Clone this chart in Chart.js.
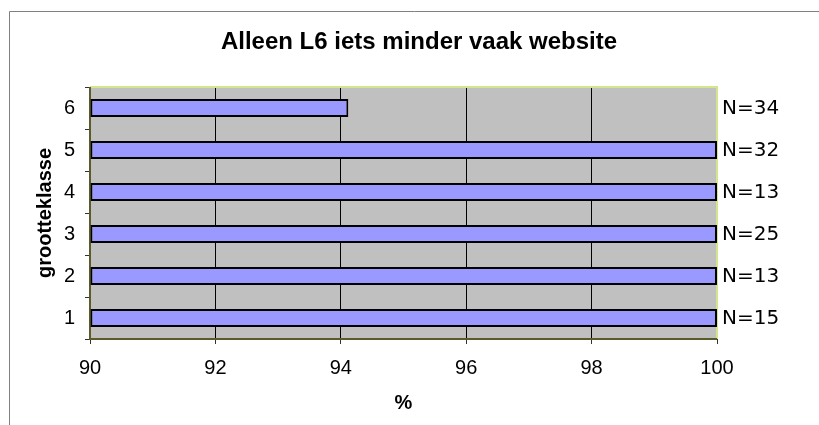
<!DOCTYPE html>
<html>
<head>
<meta charset="utf-8">
<script src="https://cdn.jsdelivr.net/npm/chart.js@4/dist/chart.umd.min.js"></script>
<style>
  body { margin: 0; background: #fff; }
  canvas { display: block; }
</style>
</head>
<body>
<canvas id="chart" width="819" height="425"></canvas>
<script>
// grootteklasse 1..6, percentage and number of respondents
const classes = ["1", "2", "3", "4", "5", "6"];
const percent = [100, 100, 100, 100, 100, 94.12];
const counts = [15, 13, 25, 13, 32, 34];
const xTicks = [90, 92, 94, 96, 98, 100];

const titleText = "Alleen L6 iets minder vaak website";
const yTitle = "grootteklasse";
const xTitle = "%";

// gray plot background + outer frame
const backdrop = {
  id: "backdrop",
  beforeDraw(chart) {
    const { ctx, chartArea: a } = chart;
    ctx.save();
    ctx.fillStyle = "#c0c0c0";
    ctx.fillRect(a.left, a.top, a.right - a.left, a.bottom - a.top);
    ctx.strokeStyle = "#808080";
    ctx.lineWidth = 1;
    ctx.beginPath();
    ctx.moveTo(9.5, 425);
    ctx.lineTo(9.5, 11.5);
    ctx.lineTo(819, 11.5);
    ctx.stroke();
    ctx.restore();
  },
  beforeDatasetsDraw(chart) {
    const { ctx, chartArea: a } = chart;
    ctx.save();
    ctx.lineWidth = 2;
    ctx.strokeStyle = "#d4e68c";
    ctx.beginPath();
    ctx.moveTo(a.left, a.top);
    ctx.lineTo(a.right, a.top);
    ctx.lineTo(a.right, a.bottom);
    ctx.stroke();
    ctx.strokeStyle = "#5a5a2a";
    ctx.beginPath();
    ctx.moveTo(a.left, a.top);
    ctx.lineTo(a.left, a.bottom);
    ctx.lineTo(a.right, a.bottom);
    ctx.stroke();
    ctx.restore();
  }
};

// title, axis titles and N= labels
const labels = {
  id: "labels",
  afterDraw(chart) {
    const { ctx, chartArea: a, scales } = chart;
    ctx.save();
    ctx.fillStyle = "#000";
    ctx.textAlign = "center";
    ctx.textBaseline = "alphabetic";
    ctx.font = "bold 24px 'Liberation Sans', Arial, sans-serif";
    ctx.fillText(titleText, 419, 49);

    ctx.font = "bold 20px 'Liberation Sans', Arial, sans-serif";
    ctx.fillText(xTitle, (a.left + a.right) / 2, 409);

    ctx.save();
    ctx.translate(51, 213);
    ctx.rotate(-Math.PI / 2);
    ctx.fillText(yTitle, 0, 0);
    ctx.restore();

    ctx.font = "20px 'DejaVu Sans', Verdana, sans-serif";
    ctx.textAlign = "left";
    ctx.textBaseline = "middle";
    counts.forEach((n, i) => {
      const y = scales.y.getPixelForValue(i);
      ctx.fillText("N=" + n, a.right + 5, y + 1);
    });
    ctx.restore();
  }
};

new Chart(document.getElementById("chart"), {
  type: "bar",
  plugins: [backdrop, labels],
  data: {
    labels: classes,
    datasets: [{
      data: percent,
      base: 90,
      backgroundColor: "#9999ff",
      borderColor: "#000",
      borderWidth: 2,
      borderSkipped: false,
      barPercentage: 0.43,
      categoryPercentage: 1
    }]
  },
  options: {
    indexAxis: "y",
    responsive: false,
    animation: false,
    layout: { padding: { top: 87, right: 102, left: 0, bottom: 0 } },
    plugins: {
      legend: { display: false },
      tooltip: { enabled: false },
      title: { display: false }
    },
    scales: {
      x: {
        min: xTicks[0],
        max: xTicks[xTicks.length - 1],
        afterBuildTicks: s => { s.ticks = xTicks.map(v => ({ value: v })); },
        afterFit: s => { s.height = 86; },
        border: { display: false },
        grid: {
          color: c => (c.tick && (c.tick.value === 90 || c.tick.value === 100)) ? "rgba(0,0,0,0)" : "#000",
          tickColor: "#333",
          tickLength: 5,
          lineWidth: 1
        },
        ticks: {
          color: "#000",
          padding: 12,
          font: { family: "'Liberation Sans', Arial, sans-serif", size: 20 }
        }
      },
      y: {
        reverse: true,
        afterFit: s => { s.width = 90; },
        border: { display: false },
        grid: {
          offset: true,
          drawOnChartArea: false,
          tickColor: "#333",
          tickLength: 5
        },
        ticks: {
          color: "#000",
          padding: 10,
          font: { family: "'Liberation Sans', Arial, sans-serif", size: 20 }
        }
      }
    }
  }
});
</script>
</body>
</html>
